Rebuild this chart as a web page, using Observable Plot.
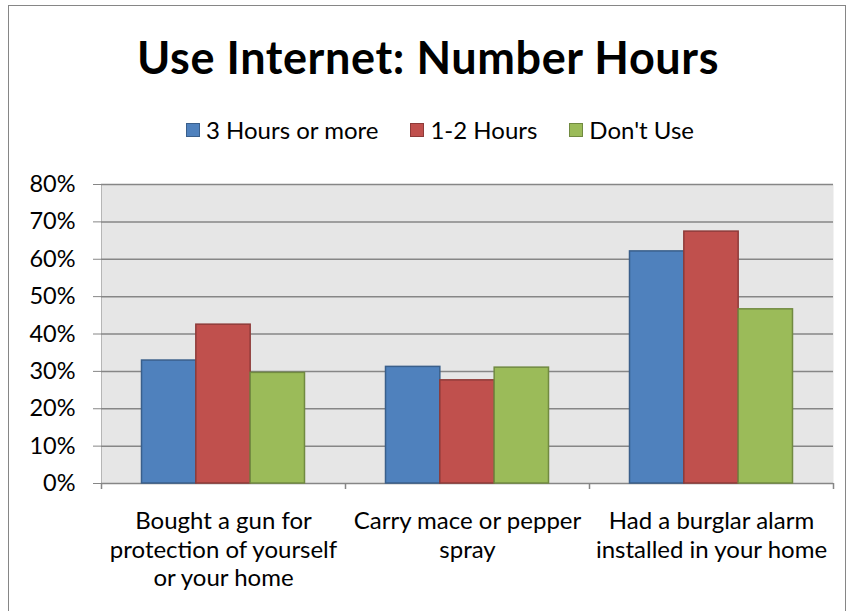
<!DOCTYPE html>
<html>
<head>
<meta charset="utf-8">
<script src="https://cdn.jsdelivr.net/npm/d3@7"></script>
<script src="https://cdn.jsdelivr.net/npm/@observablehq/plot@0.6"></script>
<style>
  html, body { margin: 0; padding: 0; background: #fff; }
  body { width: 848px; height: 611px; position: relative; overflow: hidden; font-family: Lato, "Open Sans", sans-serif; }
  #frame { position: absolute; left: 8px; top: 5px; width: 838px; height: 700px; border: 1.5px solid #868686; box-sizing: border-box; }
  #title { position: absolute; left: 2px; width: 852px; top: 30px; text-align: center; font-size: 45px; letter-spacing: 0.6px; font-weight: bold; color: #000; line-height: 1.2; white-space: nowrap; }
  #legend { position: absolute; left: 16px; width: 848px; top: 116px; display: flex; justify-content: center; font-size: 24px; line-height: 1.2; color: #000; white-space: nowrap; }
  .item { display: flex; align-items: center; margin: 0 16px; }
  .sw { width: 14px; height: 14px; box-sizing: border-box; border: 1px solid; margin-right: 6px; }
  #chart { position: absolute; left: 0; top: 160px; }
  #chart svg text { fill: #000; }
</style>
</head>
<body>
<div id="frame"></div>
<div id="title">Use Internet: Number Hours</div>
<div id="legend"></div>
<div id="chart"></div>
<script>
// ---- data ----
const categories = [
  "Bought a gun for protection of yourself or your home",
  "Carry mace or pepper spray",
  "Had a burglar alarm installed in your home"
];
const categoryLabels = [
  "Bought a gun for\nprotection of yourself\nor your home",
  "Carry mace or pepper\nspray",
  "Had a burglar alarm\ninstalled in your home"
];
const seriesNames = ["3 Hours or more", "1-2 Hours", "Don't Use"];
const hours3OrMore = [0.329, 0.312, 0.621];
const hours1to2 = [0.425, 0.276, 0.674];
const dontUse = [0.296, 0.310, 0.466];
const yTicks = [0, 0.1, 0.2, 0.3, 0.4, 0.5, 0.6, 0.7, 0.8];

// ---- styles ----
const fills = ["#4f81bd", "#c0504d", "#9bbb59"];
const strokes = ["#3a5f8b", "#8e3b39", "#718a41"];
const gridColor = "#868686";

const W = 848, H = 451, mL = 101, mR = 15, mT = 24, mB = 128;
const step = (W - mL - mR) / categories.length;
const groupPad = step * 0.166;
const barW = (step - 2 * groupPad) / seriesNames.length;

const seriesValues = [hours3OrMore, hours1to2, dontUse];

// legend
const legend = document.getElementById("legend");
seriesNames.forEach((name, i) => {
  const it = document.createElement("div");
  it.className = "item";
  const sw = document.createElement("div");
  sw.className = "sw";
  sw.style.background = fills[i];
  sw.style.borderColor = strokes[i];
  it.appendChild(sw);
  const t = document.createElement("span");
  t.textContent = name;
  it.appendChild(t);
  legend.appendChild(it);
});

const barMarks = seriesValues.map((vals, i) =>
  Plot.barY(categories.map((c, j) => ({category: c, value: vals[j]})), {
    x: "category",
    y: "value",
    fill: fills[i],
    stroke: strokes[i],
    strokeWidth: 1.5,
    insetLeft: groupPad + i * barW,
    insetRight: step - groupPad - (i + 1) * barW
  })
);

const chart = Plot.plot({
  width: W,
  height: H,
  marginLeft: mL,
  marginRight: mR,
  marginTop: mT,
  marginBottom: mB,
  style: {fontFamily: "Lato, 'Open Sans', sans-serif", fontSize: "23.5px", color: gridColor, background: "transparent", overflow: "visible"},
  x: {domain: categories, padding: 0, axis: null},
  y: {domain: [0, 0.8], ticks: yTicks, tickFormat: d3.format(".0%"), tickSize: 8, tickPadding: 18, label: null, line: true},
  marks: [
    Plot.frame({fill: "#e6e6e6", stroke: "none"}),
    Plot.ruleY(yTicks, {stroke: gridColor, strokeWidth: 1.5}),
    ...barMarks,
    Plot.ruleX(categories, {x: d => d, y1: 0, y2: 0, insetBottom: -6, dx: -step / 2, stroke: gridColor, strokeWidth: 1.5}),
    Plot.ruleX([categories[categories.length - 1]], {x: d => d, y1: 0, y2: 0, insetBottom: -6, dx: step / 2, stroke: gridColor, strokeWidth: 1.5}),
    Plot.text(categories, {x: d => d, y: 0, text: (d, i) => categoryLabels[i], lineAnchor: "top", lineHeight: 1.17, dy: 26, fontSize: 24, fill: "#000"})
  ]
});
document.getElementById("chart").appendChild(chart);
</script>
</body>
</html>
